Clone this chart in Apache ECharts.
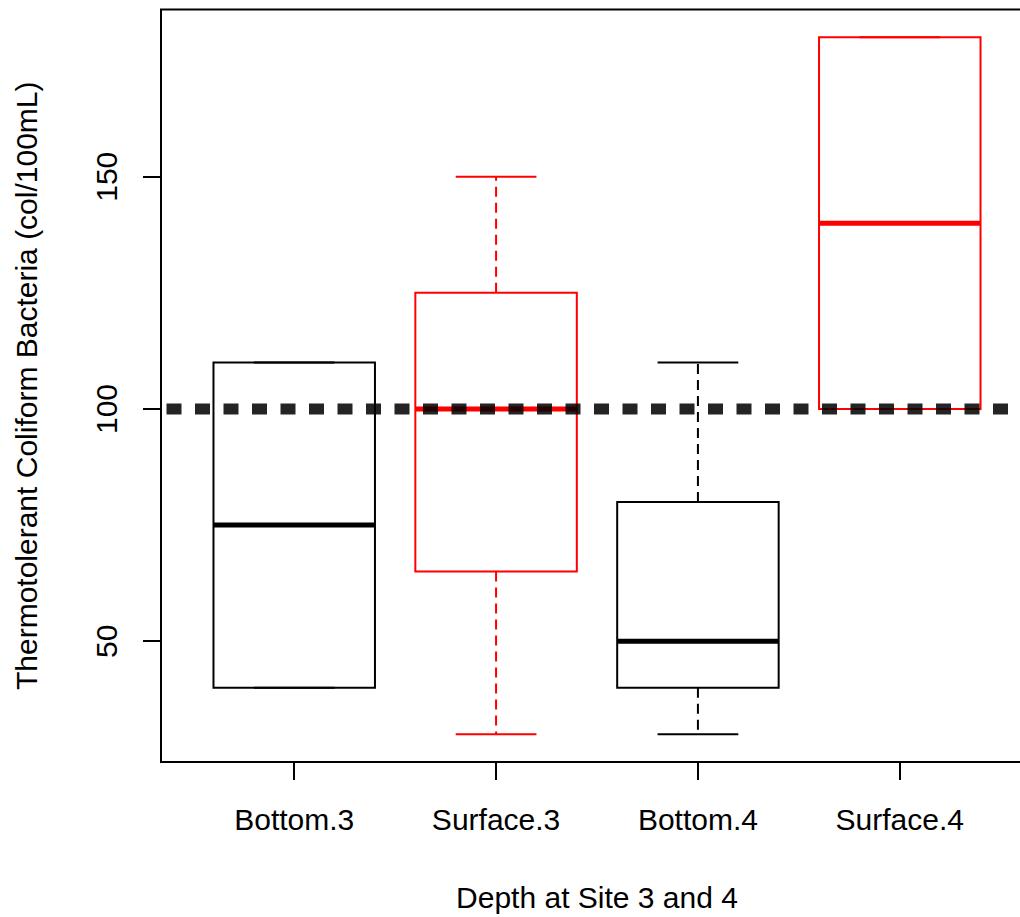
<!DOCTYPE html>
<html>
<head>
<meta charset="utf-8">
<script src="https://cdn.jsdelivr.net/npm/echarts@6/dist/echarts.min.js"></script>
<style>
  html, body { margin: 0; padding: 0; background: #ffffff; overflow: hidden; width: 1020px; height: 917px; }
  /* the plot frame runs a little past the right edge of the page */
  #chart { width: 1034px; height: 917px; }
</style>
</head>
<body>
<div id="chart"></div>
<script>
// Groups along the x axis
const categories = ['Bottom.3', 'Surface.3', 'Bottom.4', 'Surface.4'];
// Five-number summaries per group (col/100mL)
const whiskerLow  = [40, 30, 30, 100];
const q1          = [40, 65, 40, 100];
const median      = [75, 100, 50, 140];
const q3          = [110, 125, 80, 180];
const whiskerHigh = [110, 150, 110, 180];
const boxColors   = ['#000000', '#ff0000', '#000000', '#ff0000'];
// Y axis tick values and the guideline level
const yTicks = [50, 100, 150];
const referenceLevel = 100;

const FONT = "'Liberation Sans', Arial, sans-serif";
const BOX_HALF = 0.4;   // half box width in x units
const CAP_HALF = 0.2;   // half staple width in x units

const boxData = categories.map((c, i) => [i + 1, whiskerLow[i], q1[i], median[i], q3[i], whiskerHigh[i]]);

function renderBox(params, api) {
  const i = params.dataIndex;
  const x = api.value(0);
  const lo = api.value(1), b1 = api.value(2), md = api.value(3), b3 = api.value(4), hi = api.value(5);
  const color = boxColors[i];
  const L = api.coord([x - BOX_HALF, md])[0];
  const R = api.coord([x + BOX_HALF, md])[0];
  const cL = api.coord([x - CAP_HALF, md])[0];
  const cR = api.coord([x + CAP_HALF, md])[0];
  const cx = api.coord([x, md])[0];
  const y = v => api.coord([x, v])[1];
  const children = [];
  const solid = { stroke: color, lineWidth: 2, fill: null };
  const dashed = { stroke: color, lineWidth: 2, lineDash: [10, 6], fill: null };
  // whiskers (dashed) and staples
  if (hi > b3) children.push({ type: 'line', shape: { x1: cx, y1: y(b3), x2: cx, y2: y(hi) }, style: dashed });
  if (lo < b1) children.push({ type: 'line', shape: { x1: cx, y1: y(b1), x2: cx, y2: y(lo) }, style: dashed });
  children.push({ type: 'line', shape: { x1: cL, y1: y(hi), x2: cR, y2: y(hi) }, style: solid });
  children.push({ type: 'line', shape: { x1: cL, y1: y(lo), x2: cR, y2: y(lo) }, style: solid });
  // box
  children.push({ type: 'rect', shape: { x: L, y: y(b3), width: R - L, height: y(b1) - y(b3) }, style: solid });
  // median
  children.push({ type: 'line', shape: { x1: L, y1: y(md), x2: R, y2: y(md) }, style: { stroke: color, lineWidth: 5 } });
  return { type: 'group', children };
}

// guideline across the full plot width at the reference level
function renderGuide(params, api) {
  const cs = params.coordSys;
  const yy = api.coord([1, api.value(0)])[1];
  return {
    type: 'line',
    shape: { x1: cs.x, y1: yy, x2: cs.x + cs.width, y2: yy },
    style: { stroke: 'rgba(0,0,0,0.86)', lineWidth: 11, lineDash: [15, 13.5], lineDashOffset: 22.6, lineCap: 'butt' }
  };
}

const chart = echarts.init(document.getElementById('chart'), null, { renderer: 'svg' });
chart.setOption({
  animation: false,
  backgroundColor: '#ffffff',
  textStyle: { fontFamily: FONT },
  grid: {
    left: 161, top: 9.5, right: 1, bottom: 154,
    show: true, borderColor: '#000000', borderWidth: 2, backgroundColor: 'transparent'
  },
  xAxis: {
    type: 'value', min: 0.34, max: 4.66,
    name: 'Depth at Site 3 and 4', nameLocation: 'middle', nameGap: 120,
    nameTextStyle: { fontFamily: FONT, fontSize: 30, color: '#000000' },
    axisLine: { show: false },
    splitLine: { show: false },
    axisTick: { show: true, customValues: [1, 2, 3, 4], length: 18, lineStyle: { color: '#000000', width: 2 } },
    axisLabel: {
      customValues: [1, 2, 3, 4], margin: 42,
      fontFamily: FONT, fontSize: 30, color: '#000000',
      formatter: v => categories[Math.round(v) - 1] || ''
    }
  },
  yAxis: {
    type: 'value', min: 24, max: 186,
    name: 'Thermotolerant Coliform Bacteria (col/100mL)', nameLocation: 'middle', nameGap: 120,
    nameTextStyle: { fontFamily: FONT, fontSize: 30, color: '#000000' },
    axisLine: { show: false },
    splitLine: { show: false },
    axisTick: { show: true, customValues: yTicks, length: 18, lineStyle: { color: '#000000', width: 2 } },
    axisLabel: {
      customValues: yTicks, rotate: 90, margin: 40,
      fontFamily: FONT, fontSize: 30, color: '#000000'
    }
  },
  series: [
    {
      type: 'custom',
      renderItem: renderBox,
      encode: { x: 0, y: [1, 2, 3, 4, 5] },
      data: boxData,
      silent: true,
      z: 2
    },
    {
      type: 'custom',
      renderItem: renderGuide,
      encode: { y: 0 },
      data: [[referenceLevel]],
      silent: true,
      clip: true,
      z: 5
    }
  ]
});
</script>
</body>
</html>
